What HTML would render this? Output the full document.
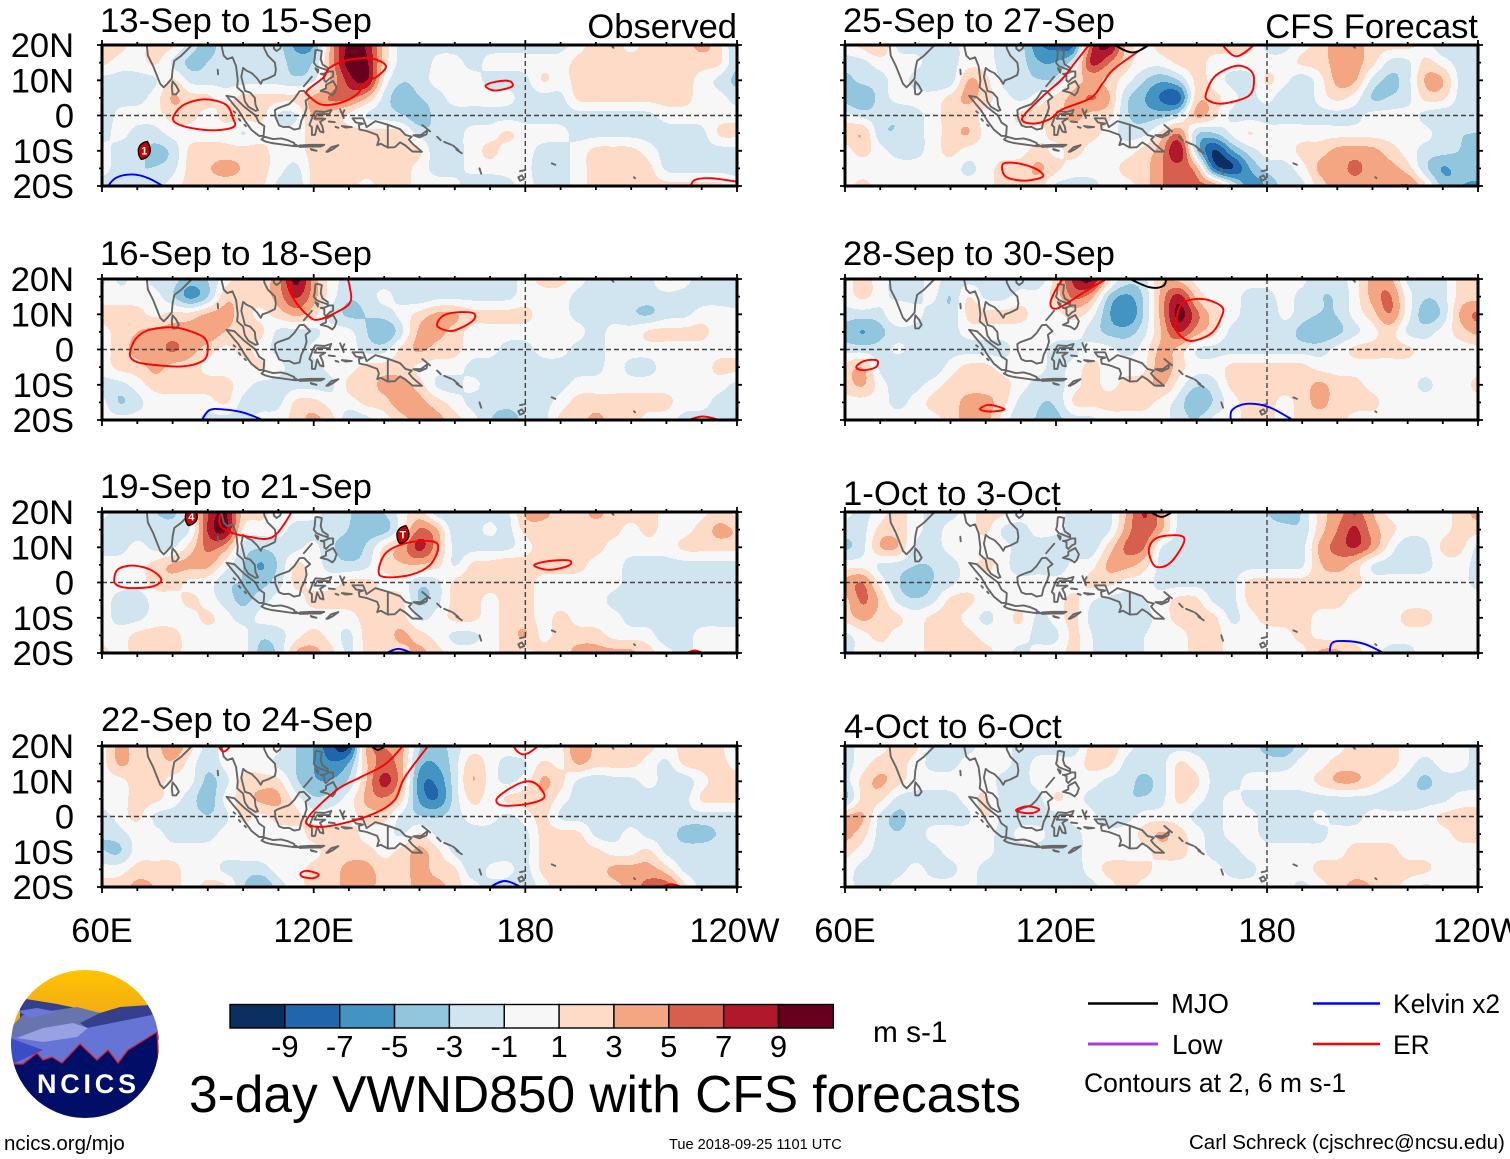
<!DOCTYPE html>
<html lang="en">
<head>
<meta charset="utf-8">
<title>3-day VWND850 with CFS forecasts</title>
<style>
html,body{margin:0;padding:0;background:#fff;width:1510px;height:1159px;overflow:hidden}
svg{display:block}
text{font-family:"Liberation Sans",sans-serif;fill:#000}
</style>
</head>
<body>
<svg id="chart" xmlns="http://www.w3.org/2000/svg" width="1510" height="1159" viewBox="0 0 1510 1159">
<rect width="1510" height="1159" fill="#fff"/>
<g id="panels"></g>

<text x="737" y="38" text-anchor="end" font-size="34.5">Observed</text>
<text x="1478" y="38" text-anchor="end" font-size="34.5">CFS Forecast</text>

<g id="colorbar"></g>
<text x="873" y="1042" font-size="29.8">m s-1</text>
<text x="189" y="1112" font-size="51.5" textLength="832" lengthAdjust="spacing">3-day VWND850 with CFS forecasts</text>

<g>
<line x1="1088" y1="1003.5" x2="1158" y2="1003.5" stroke="#000" stroke-width="2.4"/>
<text x="1171" y="1013" font-size="27.5">MJO</text>
<line x1="1088" y1="1044" x2="1158" y2="1044" stroke="#a040e0" stroke-width="3"/>
<text x="1172" y="1054" font-size="27.5">Low</text>
<line x1="1313" y1="1003.5" x2="1380" y2="1003.5" stroke="#0000ff" stroke-width="2.4"/>
<text x="1393" y="1013" font-size="26.4">Kelvin x2</text>
<line x1="1313" y1="1044" x2="1380" y2="1044" stroke="#ff0000" stroke-width="2.4"/>
<text x="1393" y="1054" font-size="26.4">ER</text>
<text x="1084" y="1092" font-size="26.5">Contours at 2, 6 m s-1</text>
</g>

<g>
<defs>
<clipPath id="logoClip"><circle cx="85" cy="1044" r="74"/></clipPath>
<linearGradient id="sky" x1="0" y1="0" x2="0" y2="1"><stop offset="0" stop-color="#ffc400"/><stop offset="1" stop-color="#eda41c"/></linearGradient>
</defs>
<g clip-path="url(#logoClip)">
<rect x="10" y="969" width="150" height="60" fill="url(#sky)"/>
<polygon points="20,998 57,1004 100,1013 120,1007 150,1005 160,1040 90,1035 20,1030" fill="#34408e"/>
<polygon points="11,1027 23,1015 77,1007 100,1013 80,1023 87,1028 33,1038 11,1038" fill="#6874ae"/>
<polygon points="18,1011 37,1008 57,1012 30,1018" fill="#6a78d8"/>
<polygon points="11,1038 87,1028 157,1014 160,1072 11,1072" fill="#6674d6"/>
<polygon points="17,1038 43,1028 73,1023 88,1028 77,1037 43,1042" fill="#98a2e2"/>
<polygon points="10,1038 43,1050 13,1064" fill="#3c4cc4"/>
<polygon points="12,1064 23,1064 37,1053 43,1060 52,1057 62,1063 80,1044 97,1060 108,1050 118,1063 128,1050 157,1032 162,1125 8,1125" fill="#000e68" stroke="#e02020" stroke-width="1.2"/>
</g>
<text x="37" y="1093" font-size="27" font-weight="bold" textLength="99" lengthAdjust="spacing" style="fill:#fff">NCICS</text>
</g>

<text x="4" y="1150" font-size="20.5">ncics.org/mjo</text>
<text x="669" y="1149" font-size="14.6">Tue 2018-09-25 1101 UTC</text>
<text x="1189" y="1149" font-size="20.5">Carl Schreck (cjschrec@ncsu.edu)</text>
</svg>

<script>
// ---------- Axis data ----------
const lonGrid = [60,65,70,75,80,85,90,95,100,105,110,115,120,125,130,135,140,145,150,155,160,165,170,175,180,185,190,195,200,205,210,215,220,225,230,235,240];
const latGrid = [20,15,10,5,0,-5,-10,-15,-20];
const latTicks = [20,10,0,-10,-20];
const latTickLabels = ["20N","10N","0","10S","20S"];
const lonTicks = [60,120,180,240];
const lonTickLabels = ["60E","120E","180","120W"];
const colorLevels = [-9,-7,-5,-3,-1,1,3,5,7,9];
const levelColors = ["#0a2f60","#2166ac","#4393c3","#92c5de","#d1e5f0","#f7f7f7","#fddbc7","#f4a582","#d6604d","#b2182b","#67001f"];
const panelTitles = ["13-Sep to 15-Sep","16-Sep to 18-Sep","19-Sep to 21-Sep","22-Sep to 24-Sep","25-Sep to 27-Sep","28-Sep to 30-Sep","1-Oct to 3-Oct","4-Oct to 6-Oct"];

// ---------- Field values (m/s), rows 20N..20S, columns 60E..120W ----------
const vwnd_13sep = [
[2,2,0,2,2,-2,-4,-2,-2,-2,-2,-6,-6,4,10,9,2,-2,-2,-2,-2,-2,-2,-2,-2,-2,-2,0,2,2,0,2,2,2,4,2,-4],
[2,0,0,2,-2,-4,-3,-2,-2,-2,-2,-4,-3,4,11,10,2,-2,-3,0,0,-2,0,0,0,0,0,2,2,2,2,2,2,2,2,2,-3],
[-2,-2,-2,-2,2,-2,-2,-2,-2,-2,-2,-3,-2,3,8,11,0,-3,-2,0,0,0,-2,-2,-2,2,0,2,3,2,3,2,2,2,0,-2,-4],
[-2,-2,-2,0,4,2,2,0,2,2,2,2,4,6,6,3,-2,-5,-3,-2,0,0,0,0,-2,-2,-2,2,2,2,2,2,2,2,0,0,-2],
[-3,0,0,0,2,2,0,2,2,2,-2,-2,4,2,0,-2,-2,-3,-5,-2,-2,-2,-2,-2,-2,-2,-2,-2,-2,-2,-2,-2,0,0,0,0,0],
[-2,0,-2,-2,0,0,0,0,-2,0,0,0,2,2,2,2,2,2,-2,-3,-2,0,0,2,0,0,0,-2,-2,-2,-2,-2,-2,-2,-2,2,2],
[0,-2,-2,-4,-3,2,2,2,2,2,0,0,2,2,2,2,2,2,2,-3,-2,0,2,0,0,-2,-2,0,2,2,2,0,-2,-2,-2,-2,-2],
[0,-2,-3,-3,-2,2,3,4,3,2,0,-2,2,2,2,2,2,2,0,-2,-2,0,0,0,0,-3,-2,0,2,2,2,2,-2,-2,-2,-2,-2],
[-2,-2,-3,-2,0,2,2,2,2,2,-2,-3,2,2,2,0,2,2,0,0,0,-3,-3,-2,0,-2,-2,0,2,2,2,2,2,2,2,2,0]
];
const vwnd_16sep = [
[2,-2,0,-2,-2,-4,-3,0,2,2,4,11,4,0,-2,-2,-2,-2,-2,-2,-2,-2,-2,-2,0,2,2,0,-2,-2,-2,-2,2,0,-2,-2,-3],
[0,0,0,0,-3,-7,-4,3,2,2,4,8,4,0,-3,-2,0,-2,-3,-2,-2,-2,-2,-2,0,0,0,-2,-2,-2,-2,-2,-2,-2,-2,-2,-3],
[2,2,2,0,2,2,4,4,2,0,2,4,2,-2,-4,-3,-2,0,2,4,4,2,2,2,2,0,0,-2,-2,-2,-3,-4,-2,-2,0,0,0],
[0,2,3,4,4,4,5,3,2,2,-2,-2,-2,0,0,-3,-6,-2,4,4,2,0,0,0,0,0,0,0,-2,0,0,2,2,2,2,0,0],
[0,2,4,4,6,4,2,0,2,0,-2,-3,0,0,0,-2,-2,2,4,2,2,0,0,-2,-2,0,0,-2,-2,0,0,0,0,0,0,0,0],
[0,2,2,4,2,2,0,0,0,2,0,-2,-2,0,0,2,2,2,0,0,0,-2,-2,-2,-2,-2,-2,-2,-2,0,-2,-2,0,0,0,2,2],
[-2,-2,0,2,2,2,2,2,0,-2,-2,-2,-2,-2,2,2,4,4,2,-2,-2,0,-2,-2,-2,-2,-2,0,0,0,0,0,0,0,0,0,-2],
[0,-4,-2,0,0,0,0,2,-2,-2,-2,2,2,0,0,2,2,5,4,2,0,-2,-2,-2,-2,-2,0,2,2,2,2,2,2,0,0,-2,-2],
[0,0,0,0,0,0,-2,-2,-2,0,0,2,4,2,-3,-2,0,2,4,4,2,0,-3,-5,-2,-2,2,2,4,2,2,0,0,-2,-2,-2,-2]
];
const vwnd_19sep = [
[0,-2,-2,-3,-4,0,7,10,2,2,0,0,0,-2,-3,-3,-3,0,2,-3,-3,-2,-2,-2,4,4,2,2,4,2,2,2,0,0,0,2,0],
[-2,-3,-2,-2,-2,-2,8,11,0,0,0,-2,-2,-2,-3,-4,-5,0,6,4,-3,-2,0,-2,2,2,2,2,2,2,0,2,0,0,2,4,3],
[-2,-2,0,-2,-2,2,6,4,-2,-3,-2,-2,0,-3,-4,-3,2,4,9,4,-2,-2,-2,-2,0,2,2,2,2,0,0,0,0,2,2,2,2],
[0,0,0,2,4,4,4,0,-3,-6,-3,2,0,-2,-3,-2,2,3,3,2,-2,2,2,3,2,2,2,2,0,0,-2,-2,-2,-2,-2,-2,-2],
[0,0,0,2,2,0,0,-3,-3,-4,-2,2,0,0,2,2,0,0,-3,-2,2,2,2,2,2,0,0,0,0,0,-2,-2,-2,-2,-2,-2,-2],
[0,-2,-3,0,0,2,0,-2,-4,-2,0,0,2,2,2,2,2,2,-4,-2,2,2,0,2,2,0,0,0,0,-2,-2,-2,-2,-2,-2,-2,-2],
[0,-2,-2,0,0,0,2,0,-2,0,0,0,0,0,0,2,2,2,-2,0,2,2,0,2,2,0,2,0,0,0,-2,-2,-2,-2,-2,-2,-2],
[0,0,2,2,2,0,0,0,0,-3,-2,0,2,0,-2,2,2,4,2,0,-2,-2,0,2,4,0,2,2,2,0,0,0,-3,-2,0,0,0],
[2,0,2,2,2,0,0,0,0,-4,-3,4,4,2,-2,2,2,2,4,2,0,0,0,2,0,2,2,4,4,4,4,2,0,-2,0,0,0]
];
const vwnd_22sep = [
[0,4,2,2,5,2,-2,0,0,0,0,-3,-5,-9,-11,5,5,4,-3,-4,-2,0,0,0,2,-2,0,6,2,2,2,2,0,2,3,2,-2],
[0,4,2,2,3,0,-3,0,0,0,-2,-3,-5,-7,-5,3,6,4,-5,-5,-2,3,0,-2,-2,2,0,4,2,2,2,0,-2,2,2,2,0],
[0,0,2,2,0,0,-4,-2,2,2,2,-3,-5,-5,-3,3,9,4,-7,-7,-2,4,0,-2,0,4,2,-2,-3,-2,-2,0,-2,-3,0,2,2],
[0,0,2,2,0,-2,-5,0,2,4,4,0,-3,-2,0,4,5,2,-6,-8,-2,2,0,2,2,3,0,-2,-2,-2,-2,-2,-2,-2,2,2,2],
[-2,0,2,-2,-2,-2,-3,-2,2,0,2,2,0,0,0,2,2,-2,-3,-3,-2,0,0,-2,0,2,-2,-2,-2,-2,-2,-2,-2,-2,-2,-2,-2],
[-3,-2,0,0,-2,-2,-2,0,0,0,0,0,2,2,2,0,0,-2,2,-2,-2,-2,-2,-2,-2,2,2,2,-2,-2,0,-2,-2,-4,-4,-3,-2],
[-3,-4,0,0,0,0,0,0,0,0,0,0,0,2,2,2,0,2,4,2,-2,-3,-3,-2,-2,2,2,2,2,0,0,2,-2,-2,-2,-2,-2],
[0,0,2,2,2,0,0,-2,-2,-2,0,0,2,2,4,4,2,2,4,2,2,-3,0,0,-2,2,2,2,2,4,4,4,2,-2,-2,-2,-2],
[2,2,4,3,2,0,2,2,-3,-6,-2,0,2,2,4,4,2,2,4,4,2,0,-2,-2,-3,0,2,2,2,2,4,6,7,2,-2,-2,-2]
];
const vwnd_25sep = [
[0,2,4,-2,-2,-2,-2,0,0,-2,-2,-7,-8,-9,7,11,2,0,2,2,2,2,2,2,-2,-2,0,2,4,4,2,2,2,0,-3,-2,-2],
[-2,-2,0,0,0,-2,-2,0,0,-2,-2,-5,-5,-2,9,5,2,0,0,2,2,0,0,0,0,0,2,2,4,4,2,-2,-2,2,0,-2,-2],
[-4,-2,-2,0,-2,-3,-3,4,2,-2,-2,-3,-3,2,3,2,0,-3,-5,-3,2,0,-2,-2,2,0,-3,0,4,4,-2,-4,-2,4,4,-2,-2],
[-4,-6,-2,0,0,0,2,4,2,0,-2,0,2,4,6,4,-3,-5,-8,-10,3,2,0,-2,0,-3,-3,0,2,0,-4,-3,-2,2,2,-2,-2],
[0,-2,-2,-3,-2,0,2,2,0,0,2,2,2,4,2,2,-3,-4,-4,-2,5,2,-2,-2,-2,-2,-2,-2,-2,-2,0,0,0,-2,-3,-2,-2],
[2,4,-3,-3,-2,0,2,4,0,0,0,0,2,2,2,0,-2,-2,2,6,-4,-3,0,2,0,0,0,0,0,0,0,0,0,0,-2,-3,-3],
[0,2,0,-2,-2,0,2,0,0,0,0,2,0,2,0,0,0,2,4,11,-4,-11,-5,-2,0,0,2,2,4,4,4,2,0,-2,-2,-3,-4],
[0,0,0,0,0,0,0,-2,0,2,2,4,2,0,0,0,2,2,5,6,5,-9,-11,-5,-2,-2,0,4,4,6,4,4,2,-3,-6,-4,-3],
[0,2,0,0,0,0,0,0,0,2,2,2,-2,-2,-2,0,0,2,5,6,6,6,0,-7,-5,-2,-2,2,4,4,4,4,6,2,-4,-5,-6]
];
const vwnd_28sep = [
[0,2,0,-2,-2,0,-2,-2,-2,-2,-2,-3,2,8,11,2,-2,-2,3,2,0,0,0,0,0,0,0,-3,-2,0,4,4,-2,-2,-2,2,2],
[0,2,0,-2,-2,0,-4,2,-2,-2,0,0,2,6,4,-4,-6,-3,4,9,2,0,0,-2,-2,0,-2,-3,-3,0,4,6,0,-3,-2,2,2],
[-2,-2,-2,2,0,-2,-3,2,2,2,2,0,0,2,0,-5,-8,-3,4,11,6,2,0,-2,-3,0,-2,-3,-3,0,2,6,0,-5,-3,4,6],
[-4,-6,-4,-2,-2,-2,-2,0,0,0,0,0,0,0,-2,-4,-4,-2,3,8,4,2,-2,-2,-2,-2,-4,-5,-4,-2,0,2,-2,-2,0,2,4],
[-2,-2,-2,0,-2,-3,-2,-2,-2,-2,0,0,-2,-2,0,0,-2,0,4,2,-2,-2,-2,-2,-2,-2,-2,-2,0,2,2,2,2,0,0,0,0],
[2,4,-2,-3,-2,-3,0,2,2,0,0,0,-2,0,2,0,0,0,5,2,0,0,2,2,2,2,2,0,0,0,0,0,0,0,0,0,0],
[2,4,0,-2,-2,0,2,2,2,2,0,-2,-2,0,2,0,2,2,4,0,-3,-2,2,2,2,2,2,4,2,2,0,0,0,-2,0,0,2],
[0,0,0,-2,0,2,2,4,4,2,-2,-3,-3,2,2,2,2,2,0,-2,-6,-3,0,2,2,0,2,4,2,2,2,0,0,0,0,0,0],
[0,0,0,0,0,0,2,4,4,0,-3,-3,-4,-2,-2,0,0,0,0,-2,-3,0,0,2,2,0,2,2,2,0,0,0,0,0,0,0,0]
];
const vwnd_1oct = [
[0,-2,0,2,0,-2,-2,0,2,2,0,0,0,-2,-3,-2,3,8,4,-2,-2,-2,-3,-3,-3,-5,-3,2,4,6,3,0,0,0,0,2,4],
[-2,-2,2,2,0,-2,0,0,2,-2,-2,0,0,-2,-3,-2,4,7,4,-2,-2,-2,-2,-2,-2,-2,-3,2,5,8,4,2,0,0,0,2,2],
[-4,-2,4,4,-2,-2,0,0,0,0,-2,-2,-3,-3,-3,2,6,6,-2,-2,-2,-2,-2,-2,-2,-2,-2,4,6,8,5,0,-3,-2,2,2,-2],
[0,0,-2,-2,-3,-3,-2,0,2,0,-3,-2,-3,0,0,4,4,2,-2,-3,-2,-2,-2,-2,-2,-2,-2,3,4,2,-2,-2,-2,-2,0,0,-2],
[4,6,0,-3,-5,-3,-2,0,0,0,0,0,0,0,2,2,0,0,-2,-2,-2,-2,-2,2,2,2,2,2,2,2,0,0,0,0,0,0,-2],
[2,6,3,-2,-3,-2,2,2,0,0,0,0,0,2,-1,-2,-2,-1,0,2,2,-2,-2,2,2,2,2,2,2,0,0,0,0,0,0,0,0],
[2,4,2,2,0,2,2,0,-2,0,2,-2,0,2,-2,-2,-2,-2,0,2,2,2,-2,0,2,2,2,0,0,0,0,0,2,2,0,0,0],
[-2,0,2,0,0,2,2,2,0,0,0,-2,-2,2,-1,-2,-2,-1,0,0,2,2,0,0,0,0,2,0,0,0,0,0,0,0,0,0,0],
[-2,0,0,0,0,2,2,2,2,0,-2,0,0,2,-1,-2,-2,-1,0,0,2,2,0,0,0,0,0,4,4,2,0,-2,-2,0,0,0,0]
];
const vwnd_4oct = [
[-2,0,0,2,2,-2,-2,-2,0,0,-2,-2,-2,-3,2,3,0,-2,-2,-2,-2,-2,-2,-2,-4,-5,-2,0,0,2,2,2,0,0,0,0,-2],
[-2,0,2,2,0,-2,-2,0,0,0,-2,0,0,0,2,2,-2,-2,-2,2,0,-2,-2,-2,-2,-2,0,0,2,2,2,2,0,-2,0,0,-2],
[-2,2,4,2,0,0,0,0,0,-2,-2,0,0,0,0,-2,-2,-4,-2,2,2,-2,-2,0,0,0,0,2,4,4,2,0,-2,-4,-2,-2,-2],
[-5,2,2,-2,-2,-2,-2,0,2,-2,-2,-2,2,0,-2,-2,-3,-3,-2,2,0,-2,0,-2,-2,-2,-2,-2,-2,-2,-2,-3,-3,-2,-2,0,0],
[4,4,-2,-4,-2,-2,-2,-2,2,-2,-2,-2,-2,0,0,-3,-2,0,0,0,-2,-2,0,0,-2,-2,-2,0,-2,-2,0,0,0,0,2,2,2],
[4,2,-2,-3,-2,0,0,0,0,-2,0,0,-2,-2,0,0,0,2,4,2,0,-2,0,0,-2,-2,-2,-2,0,0,0,0,0,0,0,2,2],
[2,0,-2,-3,-2,-2,0,0,0,-2,-2,-2,-2,-2,0,0,0,0,2,2,0,-2,-2,0,0,0,0,0,0,2,2,2,0,0,0,0,0],
[0,-2,-2,-2,0,-2,-2,0,-2,-2,-2,-2,-2,-2,0,2,2,2,0,0,0,0,-2,-2,0,0,0,2,2,2,2,2,2,2,0,0,0],
[0,-2,-2,0,0,0,0,0,-2,-2,-3,-2,-2,-2,-2,0,2,0,0,0,0,0,0,0,0,0,-2,0,2,4,3,2,0,-2,0,0,0]
];
const panelFields = [vwnd_13sep,vwnd_16sep,vwnd_19sep,vwnd_22sep,vwnd_25sep,vwnd_28sep,vwnd_1oct,vwnd_4oct];

// ---------- Wave contours as [lon, lat] outlines ----------
const contours_13sep = [
{wave:"er",closed:true,pts:[[118.1,7],[122.8,10.8],[124.6,13.6],[129.9,15.8],[136.4,16.2],[140.5,14.1],[138.2,11.2],[134.6,9.3],[132.3,6],[127.6,3.6],[122.2,3.1],[118.7,5.5]]},
{wave:"er",closed:true,pts:[[80.3,-0.2],[83.3,3.1],[89.2,4.6],[95.1,3.1],[97.1,-0.7],[97.4,-3.2],[92.1,-4.2],[85,-3.5],[80.9,-2.1]]},
{wave:"er",closed:true,pts:[[168.7,8.4],[171.3,9.5],[175.4,9.8],[176.2,8.2],[171.3,7.1]]},
{wave:"er",closed:false,pts:[[226.5,-21],[228,-18.3],[232.7,-17.8],[240,-18.8]]},
{wave:"kelvin",closed:false,pts:[[61,-21],[63.8,-17.8],[68.5,-16.7],[73.2,-17.8],[79,-21]]}
];
const contours_16sep = [
{wave:"er",closed:false,pts:[[113.8,22],[113.2,17],[115.2,13.1],[118.2,9.8],[120.7,8.4],[124.9,9.8],[130.2,13.1],[130.2,18],[129,22]]},
{wave:"er",closed:true,pts:[[67.9,-1.1],[69.6,3.1],[73.2,5.5],[80.3,6.3],[85.6,5],[89.2,3.1],[90,-0.2],[88.6,-3.2],[82.7,-4.8],[73.2,-4.2],[69.1,-3.2]]},
{wave:"er",closed:true,pts:[[155,7.4],[157.1,9.8],[161.8,10.6],[165.6,10.1],[164.8,7.9],[159.5,5.3],[155.9,6]]},
{wave:"er",closed:false,pts:[[224,-21],[230.3,-19],[238,-21]]},
{wave:"kelvin",closed:false,pts:[[87.8,-21],[90.3,-17.3],[94.4,-17],[100.4,-18],[108,-21]]}
];
const contours_19sep = [
{wave:"er",closed:false,pts:[[94.2,22],[93.3,17],[95.7,14.6],[101.6,13],[108.7,13.1],[115,22]]},
{wave:"er",closed:true,pts:[[63.5,0.3],[64.4,3.6],[68.5,4.8],[73.8,3.6],[76.8,0.8],[74.4,-1.1],[68.5,-1.6],[65,-1.1]]},
{wave:"er",closed:true,pts:[[138.4,3.1],[140.5,8.4],[146.4,11.2],[153.5,11.7],[155.3,9.8],[153,5],[147.6,2.2],[140.5,1.5]]},
{wave:"er",closed:true,pts:[[182.5,4.8],[186,6],[192.3,6.3],[192.3,4.8],[186.8,3.6]]},
{wave:"er",closed:false,pts:[[224,-21],[228,-19.3],[232,-21]]},
{wave:"kelvin",closed:false,pts:[[139,-21],[144,-18.8],[150,-21]]}
];
const contours_22sep = [
{wave:"er",closed:false,pts:[[147,22],[140.5,15],[133.4,11.2],[126.4,7.4],[118.1,-0.7],[120.5,-2.9],[127.6,-2.1],[137,0.8],[142.9,4.6],[145.9,11.2],[154,22]]},
{wave:"er",closed:true,pts:[[171.8,4.8],[174.7,7.4],[179.5,9.8],[183,9.3],[185.4,5.5],[180.7,3.6],[173.6,3.1]]},
{wave:"er",closed:false,pts:[[92,22],[94.5,18.4],[98,22]]},
{wave:"er",closed:false,pts:[[175.5,22],[177.8,18.4],[180.7,17.9],[186,22]]},
{wave:"er",closed:true,pts:[[116.3,-16.1],[118.1,-15.4],[121.4,-16.4],[119.9,-17.5],[116.9,-17.1]]},
{wave:"er",closed:false,pts:[[216,-21],[221.4,-19.2],[226,-21]]},
{wave:"mjo",closed:false,pts:[[135.5,21],[138.2,18.9],[141.5,21]]},
{wave:"kelvin",closed:false,pts:[[168.5,-21],[174.2,-18.3],[180.5,-21]]}
];
const contours_25sep = [
{wave:"er",closed:false,pts:[[131,22],[125.8,15.5],[121.7,10.3],[116.3,5.5],[110.4,-0.7],[113.3,-2.3],[118.1,-1.1],[121.7,1.7],[129.9,5],[133.4,9.3],[137,13.6],[149,22]]},
{wave:"er",closed:true,pts:[[162.6,6],[165.3,11.2],[171.3,14.1],[175.4,12.7],[176.3,9.3],[174.7,5.5],[167.7,3.4],[163.6,4.1]]},
{wave:"er",closed:false,pts:[[166.5,21],[171.3,16.8],[177.5,21]]},
{wave:"er",closed:true,pts:[[104.9,-13.8],[108.7,-13.5],[114,-15],[116.3,-17.3],[111,-18.5],[105.7,-17.3]]},
{wave:"mjo",closed:false,pts:[[135,21],[141.7,17.9],[148,21]]},
{wave:"kelvin",closed:false,pts:[[153,-20.5],[155,-19.8],[157,-20.5]]}
];
const contours_28sep = [
{wave:"er",closed:false,pts:[[136,21],[127.6,16],[120.5,11.7],[118.4,13.1],[120.5,17.9],[123.5,22]]},
{wave:"er",closed:true,pts:[[154.1,7.4],[155.9,13.1],[161.8,14.3],[167.1,12.2],[167.1,9.3],[164.2,4.6],[158.3,2.4],[154.7,4.6]]},
{wave:"er",closed:true,pts:[[63.2,-4.9],[65.6,-3.2],[69.1,-3.1],[68.8,-5],[65,-5.9]]},
{wave:"er",closed:true,pts:[[98.4,-16.9],[101,-15.7],[105.4,-17],[101,-17.6]]},
{wave:"mjo",closed:false,pts:[[139,21],[146.4,17.7],[150.6,18.1],[151.5,21]]},
{wave:"kelvin",closed:false,pts:[[169.8,-21],[170,-17.3],[174.2,-15.4],[180.7,-16.4],[189,-21]]}
];
const contours_1oct = [
{wave:"er",closed:true,pts:[[146.4,9.3],[148.8,12.7],[155.3,13.3],[156.3,11.2],[152.4,5.5],[148.2,4.6]]},
{wave:"mjo",closed:false,pts:[[145.5,21],[150,18.6],[154.5,21]]},
{wave:"kelvin",closed:false,pts:[[197.8,-21],[198.4,-17.3],[201.9,-16.6],[207.9,-17.5],[215,-21]]}
];
const contours_4oct = [
{wave:"er",closed:true,pts:[[108.7,1.9],[111.7,2.9],[115.2,2.1],[113.4,1],[109.9,1.2]]}
];
const panelContours = [contours_13sep,contours_16sep,contours_19sep,contours_22sep,contours_25sep,contours_28sep,contours_1oct,contours_4oct];
const waveColors = {er:"#ff0000",kelvin:"#0000ff",mjo:"#000000"};

// ---------- Tropical cyclone markers: panel index, lon, lat, label ----------
const stormPanels = [0,2,2];
const stormLons = [72,85.3,145.3];
const stormLats = [-9.9,18.7,13.6];
const stormLabels = ["1","4","T"];

// ---------- Coastlines in lon/lat ----------
const coastlines = [
[[72.6,21],[73,17],[74.5,14],[75.5,11.5],[76.5,9],[77.5,8],[78.5,9],[79.8,10.5],[80,13],[80.5,15.5],[82.5,17],[85,19.5],[87,21]],
[[80,9.7],[81,8.5],[81.8,7],[81,6],[80,6],[79.8,8],[80,9.7]],
[[93.6,21],[94.5,17],[95.5,16],[97,16.5],[98,14],[98.5,10],[98.3,8],[100,6.5],[100.5,4],[101.5,2.5],[103.5,1.3],[104.2,1.5],[103.5,3],[103.3,5],[102,6.5],[100.5,7],[100,9],[99.5,11],[100,13.5],[101,12.7],[102.5,12],[104,10.5],[105,9],[105.5,10],[107,10.5],[109,11.5],[109.3,13],[109,15],[107,17],[106,19],[105.8,21],[108,21.5]],
[[108.7,19.8],[108.7,19],[109.5,18.3],[110.5,19],[110.8,20],[109.8,20],[108.7,19.8]],
[[120.5,18.5],[120.3,16],[120,15],[120.8,14],[122,13.5],[124,12.8],[124,13.5],[122.5,14.5],[122,16],[122.3,18.3],[121,18.6],[120.5,18.5]],
[[122,7],[123.5,7.7],[123.5,8.7],[125.5,9.8],[126.5,8],[126,6.5],[125.3,5.7],[124,6.5],[122,7]],
[[122,11.8],[123,11.5],[123,10],[123.5,9.5],[124.5,10.5],[125.5,11],[125.5,12.5],[124.5,12.5],[123,11.9],[122,11.8]],
[[120.5,13.4],[121.3,13],[121.2,12.2],[120.5,13.4]],
[[117.2,8.3],[119.5,11]],
[[95.3,5.6],[97.5,5.2],[100.3,2.5],[103.5,0],[104.5,-2],[106,-3],[105.8,-5.8],[104.5,-5.8],[102.3,-4],[100.5,-1.5],[98.7,1.5],[97,3.5],[95.3,5.6]],
[[105.2,-6.8],[106,-6],[108.5,-6.7],[110.8,-6.5],[112.7,-7],[114.5,-7.8],[114.5,-8.7],[111,-8.2],[108,-7.8],[106.4,-7.4],[105.2,-6.8]],
[[115,-8.3],[115.6,-8.7],[114.8,-8.7],[115,-8.3]],
[[116,-8.5],[119,-8.3],[123,-8.3],[122,-8.8],[119,-8.8],[116,-8.9],[116,-8.5]],
[[123.6,-10.3],[125,-9],[127,-8.4],[125.5,-9.5],[124,-10.3]],
[[119.2,-9.5],[120.8,-10],[119.5,-9.8],[119.2,-9.5]],
[[109,1.5],[109.7,2],[111.3,2.6],[113,3.2],[114.5,4.7],[116,6.9],[117.2,7],[119,5.2],[117.7,4.2],[118,2.2],[117.5,0.5],[116.5,-1.5],[116,-3.7],[114.5,-4],[113,-3.2],[111.5,-3.3],[110.2,-2.8],[109.2,-0.5],[109,1.5]],
[[119.5,-5.5],[119.5,-3.3],[118.8,-2.7],[119.8,0],[120.5,1.2],[123,1],[125,1.6],[124.5,0.4],[121,0.4],[120.2,-0.9],[121.5,-0.9],[123.3,-0.9],[121.8,-1.8],[122.5,-3.2],[122.8,-4.8],[121.8,-4.5],[121,-2.8],[120.4,-5.5],[119.5,-5.5]],
[[127.5,1.8],[128,0.5],[128.5,-0.7],[128.2,0.5],[128.7,1.5]],
[[128,-3],[130.8,-3.3],[129,-3.4],[128,-3]],
[[126.2,-3.2],[127,-3.5]],
[[124.3,-1.7],[126,-1.9]],
[[131,-0.8],[134,-0.8],[135,-3.3],[137.5,-1.6],[141,-2.6],[144.5,-3.9],[146,-5.5],[147.8,-6],[147,-6.8],[148,-8],[150.7,-10.3],[148,-10.2],[146,-8.5],[144.5,-7.6],[143,-9],[141,-9.1],[139,-8],[138,-8.4],[138.5,-6.8],[138,-5.5],[135,-4.4],[133,-4],[132.8,-2.7],[134,-2.3],[132,-2],[131,-0.8]],
[[141,-2.6],[141,-9.1]],
[[148.3,-5.6],[150.5,-5.5],[152.2,-4.2],[152,-5.3],[150,-6.2],[148.3,-5.6]],
[[150.8,-2.7],[153,-4.5]],
[[155,-6],[156,-7]],[[157,-7.5],[159,-8.3]],[[159.5,-8.5],[161,-9.8]],[[160.5,-9.7],[162,-10.7]],
[[92.8,13],[92.9,11.7]],[[97.3,1.2],[97.8,0.8]],[[98.8,-1],[99.2,-1.5]],[[100.4,-2.6],[100.8,-3]],
[[167,-15],[167.5,-16.5]],
[[178,-17.5],[179,-17],[179.7,-18],[178.5,-18.5],[178,-17.5]],
[[178.5,-15.8],[180,-15.5]],
[[187.5,-13.6],[188.5,-14]],
[[210.8,-17.5],[211.1,-17.8]],
[[204.5,19.7],[205,19.2]]
];

// ---------- Layout ----------
const panelLefts = [102,102,102,102,845,845,845,845];
const panelWidths = [635,635,635,635,633,633,633,633];
const panelTops = [45,279,512,746,45,279,512,746];
const panelHeight = 141;
const titleXs = [100,100,100,101,843,843,843,844];
const titleYs = [32,265,498,731,32,265,505,738];

const NS = "http://www.w3.org/2000/svg";
const root = document.getElementById("panels");
function mk(tag, parent){ const e = document.createElementNS(NS, tag); parent.appendChild(e); return e; }
function xScale(lon, p){ return panelLefts[p] + (lon - 60) / 180 * panelWidths[p]; }
function yScale(lat, p){ return panelTops[p] + (20 - lat) / 40 * panelHeight; }

// interpolation kernel: blend of Catmull-Rom and cubic B-spline
function kernel(t){
  const t2=t*t, t3=t2*t, m=0.5;
  return [
    m*(-0.5*t3+t2-0.5*t)+(1-m)*((1-t)*(1-t)*(1-t)/6),
    m*(1.5*t3-2.5*t2+1)+(1-m)*((3*t3-6*t2+4)/6),
    m*(-1.5*t3+2*t2+0.5*t)+(1-m)*((-3*t3+3*t2+3*t+1)/6),
    m*(0.5*t3-0.5*t2)+(1-m)*(t3/6)
  ];
}
function sampleField(f, col, row){
  const nr = f.length, nc = f[0].length;
  const r0 = Math.floor(row), c0 = Math.floor(col);
  const wr = kernel(row-r0), wc = kernel(col-c0);
  let v = 0;
  for(let i=-1;i<=2;i++){
    const R = f[Math.max(0,Math.min(nr-1,r0+i))];
    let s = 0;
    for(let j=-1;j<=2;j++){ s += wc[j+1]*R[Math.max(0,Math.min(nc-1,c0+j))]; }
    v += wr[i+1]*s;
  }
  return v;
}
function levelOf(v){
  let i = 0;
  while(i < colorLevels.length && v >= colorLevels[i]) i++;
  return i;
}
function splinePath(pts, closed, p){
  const P = pts.map(q => [xScale(q[0],p), yScale(q[1],p)]);
  const n = P.length;
  const at = i => closed ? P[(i+n)%n] : P[Math.max(0,Math.min(n-1,i))];
  let d = "M" + P[0][0].toFixed(1) + "," + P[0][1].toFixed(1);
  const segs = closed ? n : n-1;
  for(let i=0;i<segs;i++){
    const p0=at(i-1),p1=at(i),p2=at(i+1),p3=at(i+2);
    d += "C"+(p1[0]+(p2[0]-p0[0])/6).toFixed(1)+","+(p1[1]+(p2[1]-p0[1])/6).toFixed(1)+" "
        +(p2[0]-(p3[0]-p1[0])/6).toFixed(1)+","+(p2[1]-(p3[1]-p1[1])/6).toFixed(1)+" "
        +p2[0].toFixed(1)+","+p2[1].toFixed(1);
  }
  return d + (closed ? "Z" : "");
}

panelTitles.forEach(function(title, p){
  const L = panelLefts[p], T = panelTops[p], W = panelWidths[p], H = panelHeight;
  const g = mk("g", root);
  
  

  const clip = mk("clipPath", g);
  clip.setAttribute("id", "clip" + p);
  const cr = mk("rect", clip);
  cr.setAttribute("x", L); cr.setAttribute("y", T); cr.setAttribute("width", W); cr.setAttribute("height", H);

  const bg = mk("rect", g);
  bg.setAttribute("x", L); bg.setAttribute("y", T); bg.setAttribute("width", W); bg.setAttribute("height", H);
  bg.setAttribute("fill", levelColors[5]);
  
  

  // heatmap bands from the field array, through the axis functions
  const f = panelFields[p];
  const bandD = levelColors.map(() => []);
  const lonStep = lonGrid[1]-lonGrid[0], latStep = latGrid[0]-latGrid[1];
  for(let y=0;y<H;y++){
    const lat = 20 - (y+0.5)/H*40;
    const row = Math.min(latGrid.length-1.001,(latGrid[0]-lat)/latStep);
    let runStart = 0, runLevel = -1;
    for(let x=0;x<=W;x++){
      let lev = -2;
      if(x<W){
        const lon = 60 + (x+0.5)/W*180;
        const col = Math.min(lonGrid.length-1.001,(lon-lonGrid[0])/lonStep);
        lev = levelOf(sampleField(f,col,row));
      }
      if(lev!==runLevel){
        if(runLevel>=0 && runLevel!==5){
          bandD[runLevel].push("M"+(L+runStart)+" "+(T+y)+"h"+(x-runStart)+"v1h-"+(x-runStart)+"z");
        }
        runStart = x; runLevel = lev;
      }
    }
  }
  bandD.forEach(function(parts,i){
    if(!parts.length) return;
    const b = mk("path", g);
    b.setAttribute("d", parts.join(""));
    b.setAttribute("fill", levelColors[i]);
    b.setAttribute("shape-rendering", "crispEdges");
    
    
  });

  const inner = mk("g", g);
  inner.setAttribute("clip-path", "url(#clip"+p+")");
  
  

  const coast = mk("path", inner);
  coast.setAttribute("d", coastlines.map(seg => seg.map((q,i) => (i?"L":"M")+xScale(q[0],p).toFixed(1)+","+yScale(q[1],p).toFixed(1)).join("")).join(""));
  coast.setAttribute("fill", "none");
  coast.setAttribute("stroke", "#666");
  coast.setAttribute("stroke-width", "1.9");
  coast.setAttribute("stroke-linejoin", "round");
  coast.setAttribute("stroke-linecap", "round");
  
  

  const eq = mk("line", inner);
  eq.setAttribute("x1", L); eq.setAttribute("x2", L+W);
  eq.setAttribute("y1", yScale(0,p)); eq.setAttribute("y2", yScale(0,p));
  eq.setAttribute("stroke", "#444"); eq.setAttribute("stroke-width", "1.4"); eq.setAttribute("stroke-dasharray", "5 3");
  
  

  const dl = mk("line", inner);
  dl.setAttribute("x1", xScale(180,p)); dl.setAttribute("x2", xScale(180,p));
  dl.setAttribute("y1", T); dl.setAttribute("y2", T+H);
  dl.setAttribute("stroke", "#444"); dl.setAttribute("stroke-width", "1.4"); dl.setAttribute("stroke-dasharray", "5 3");
  
  

  panelContours[p].forEach(function(c){
    const path = mk("path", inner);
    path.setAttribute("d", splinePath(c.pts, c.closed, p));
    path.setAttribute("fill", "none");
    path.setAttribute("stroke", waveColors[c.wave]);
    path.setAttribute("stroke-width", "1.9");
    
    
  });

  stormPanels.forEach(function(sp,i){
    if(sp!==p) return;
    const s = mk("g", inner);
    s.setAttribute("transform", "translate("+xScale(stormLons[i],p).toFixed(1)+","+yScale(stormLats[i],p).toFixed(1)+")");
    
    
    const body = mk("path", s);
    body.setAttribute("d", "M3,-9C-3,-8 -6,-4 -6,0C-6,3 -5,7 -3,9C3,8 6,4 6,0C6,-3 5,-6 3,-9Z");
    body.setAttribute("fill", "#c80000");
    body.setAttribute("stroke", "#000");
    body.setAttribute("stroke-width", "1.3");
    const t = mk("text", s);
    t.textContent = stormLabels[i];
    t.setAttribute("text-anchor", "middle");
    t.setAttribute("y", "4");
    t.setAttribute("font-size", "11");
    t.setAttribute("font-weight", "bold");
    t.setAttribute("style", "fill:#fff");
    
    
  });

  // frame
  const frame = mk("rect", g);
  frame.setAttribute("x", L); frame.setAttribute("y", T); frame.setAttribute("width", W); frame.setAttribute("height", H);
  frame.setAttribute("fill", "none");
  frame.setAttribute("stroke", "#000");
  frame.setAttribute("stroke-width", "3");
  
  

  // ticks
  let tickD = "";
  for(let lon=60;lon<=240;lon+=10){
    const major = lonTicks.indexOf(lon)>=0;
    const x = xScale(lon,p).toFixed(1);
    tickD += "M"+x+" "+T+"v"+(major?-5:-3)+"M"+x+" "+(T+H)+"v"+(major?6:4);
  }
  for(let lat=-20;lat<=20;lat+=5){
    const major = latTicks.indexOf(lat)>=0;
    const y = yScale(lat,p).toFixed(1);
    tickD += "M"+L+" "+y+"h"+(major?-5:-3)+"M"+(L+W)+" "+y+"h"+(major?5:3);
  }
  const ticks = mk("path", g);
  ticks.setAttribute("d", tickD);
  ticks.setAttribute("stroke", "#000");
  ticks.setAttribute("stroke-width", "1.8");
  ticks.setAttribute("fill", "none");
  
  

  // labels
  const tt = mk("text", g);
  tt.textContent = title;
  tt.setAttribute("x", titleXs[p]);
  tt.setAttribute("y", titleYs[p]);
  tt.setAttribute("font-size", "34.7");
  
  

  if(p<4){
    latTicks.forEach(function(lat,i){
      const yl = mk("text", g);
      yl.textContent = latTickLabels[i];
      yl.setAttribute("x", 74);
      yl.setAttribute("y", yScale(lat,p)+12);
      yl.setAttribute("text-anchor", "end");
      yl.setAttribute("font-size", "34.5");
      
      
    });
  }
  if(p===3 || p===7){
    lonTicks.forEach(function(lon,i){
      const xl = mk("text", g);
      xl.textContent = lonTickLabels[i];
      xl.setAttribute("x", xScale(lon,p) - (p===3 && i===3 ? 2.5 : 0));
      xl.setAttribute("y", 942);
      xl.setAttribute("text-anchor", "middle");
      xl.setAttribute("font-size", "34.5");
      
      
    });
  }
});

// ---------- Colorbar ----------
const cb = document.getElementById("colorbar");
const cbLeft = 230, cbCell = 54.85, cbTop = 1004.5, cbHeight = 23.5;
levelColors.forEach(function(col,i){
  const r = mk("rect", cb);
  r.setAttribute("x", cbLeft + i*cbCell);
  r.setAttribute("y", cbTop);
  r.setAttribute("width", cbCell);
  r.setAttribute("height", cbHeight);
  r.setAttribute("fill", col);
  r.setAttribute("stroke", "#000");
  r.setAttribute("stroke-width", "1.4");
  
  
});
colorLevels.forEach(function(v,i){
  const t = mk("text", cb);
  t.textContent = String(v);
  t.setAttribute("x", cbLeft + (i+1)*cbCell);
  t.setAttribute("y", 1057);
  t.setAttribute("text-anchor", "middle");
  t.setAttribute("font-size", "31");
  
  
});
</script>
</body>
</html>
